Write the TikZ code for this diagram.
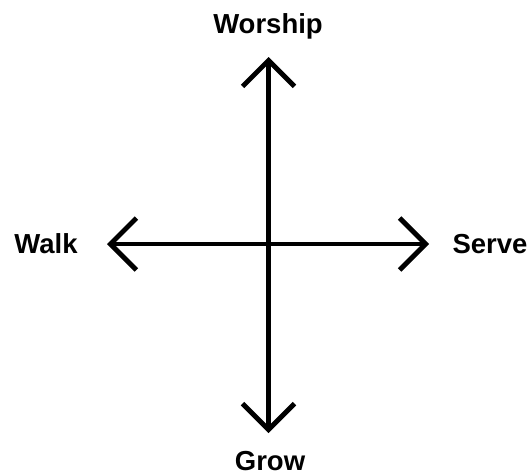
\documentclass[tikz,border=0pt]{standalone}
\usepackage{fontspec}
\setmainfont{Liberation Sans}
\usetikzlibrary{arrows.meta}
\begin{document}
\begin{tikzpicture}[x=1pt,y=-1pt,
  axis/.style={line width=4.8pt,-{Straight Barb[length=26pt,width=52pt,line width=4.8pt]}},
  lbl/.style={font=\fontsize{27.5}{33}\selectfont\bfseries,inner sep=0pt,anchor=base}]
\useasboundingbox (0,0) rectangle (530,474);
\coordinate (c) at (268.5,244);
\coordinate (top) at (268.5,57);
\coordinate (bot) at (268.5,433);
\coordinate (lft) at (107,244);
\coordinate (rgt) at (429,244);
\draw[axis] (c) -- (top);
\draw[axis] (c) -- (bot);
\draw[axis] (c) -- (lft);
\draw[axis] (c) -- (rgt);
\node[lbl] (worship) at (268,33.5) {Worship};
\node[lbl] (walk) at (46,253) {Walk};
\node[lbl] (serve) at (490,253) {Serve};
\node[lbl] (grow) at (270,470) {Grow};
\end{tikzpicture}
\end{document}
